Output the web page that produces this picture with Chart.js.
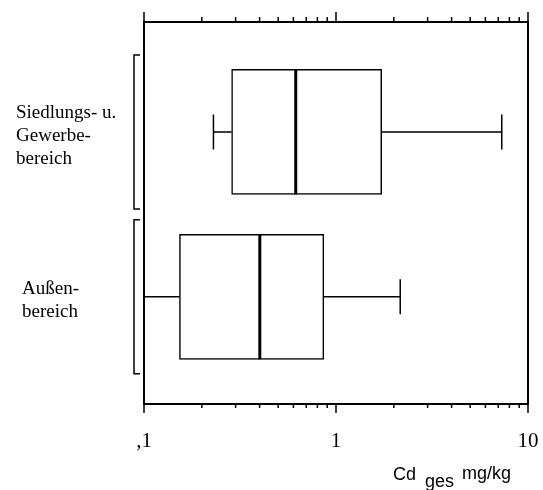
<!DOCTYPE html>
<html>
<head>
<meta charset="utf-8">
<script src="https://cdn.jsdelivr.net/npm/chart.js@4/dist/chart.umd.min.js"></script>
<style>
  html, body { margin: 0; padding: 0; background: #fff; }
  #wrap { width: 543px; height: 490px; }
</style>
</head>
<body>
<div id="wrap"><canvas id="cdChart"></canvas></div>
<script>
// Cd gesamt (mg/kg) nach Nutzung
const groupLines = [['Siedlungs- u.', 'Gewerbe-', 'bereich'], ['Außen-', 'bereich']];
const groupPos = [2, 5];
const whiskerLow = [0.23, 0.1];
const quart1 = [0.286, 0.153];
const medians = [0.617, 0.401];
const quart3 = [1.73, 0.864];
const whiskerHigh = [7.3, 2.16];

const majorTicks = [0.1, 1, 10];
const tickLabels = [',1', '1', '10'];
const minorSteps = [2, 3, 4, 5, 6, 7, 8, 9];

const serif = "'Liberation Serif', 'Times New Roman', serif";
const sans = "'Liberation Sans', Arial, sans-serif";

function line(ctx, x1, y1, x2, y2) {
    ctx.moveTo(x1, y1);
    ctx.lineTo(x2, y2);
}

const boxExtras = {
    id: 'boxExtras',
    afterDatasetsDraw(chart) {
        const ctx = chart.ctx;
        const x = chart.scales.x;
        const meta = chart.getDatasetMeta(0);
        ctx.save();
        ctx.strokeStyle = '#000';
        meta.data.forEach((bar, i) => {
            const { y, height } = bar.getProps(['y', 'height'], true);
            const cap = height * 0.14;
            const lo = x.getPixelForValue(whiskerLow[i]);
            const hi = x.getPixelForValue(whiskerHigh[i]);

            // Whisker und Endstriche
            ctx.lineWidth = 1.5;
            ctx.beginPath();
            line(ctx, lo, y, x.getPixelForValue(quart1[i]), y);
            line(ctx, x.getPixelForValue(quart3[i]), y, hi, y);
            line(ctx, lo, y - cap, lo, y + cap);
            line(ctx, hi, y - cap, hi, y + cap);
            ctx.stroke();

            // Median
            const m = x.getPixelForValue(medians[i]);
            ctx.lineWidth = 3;
            ctx.beginPath();
            line(ctx, m, y - height / 2, m, y + height / 2);
            ctx.stroke();
        });
        ctx.restore();
    },
    afterDraw(chart) {
        const ctx = chart.ctx;
        const area = chart.chartArea;
        const x = chart.scales.x;
        const y = chart.scales.y;
        ctx.save();
        ctx.strokeStyle = '#000';

        // Rahmen
        ctx.lineWidth = 2;
        ctx.strokeRect(area.left, area.top, area.right - area.left, area.bottom - area.top);

        // Teilstriche oben und unten
        const minors = majorTicks.slice(0, -1).flatMap(d => minorSteps.map(s => s * d));
        ctx.lineWidth = 1.5;
        ctx.beginPath();
        majorTicks.forEach(v => {
            const px = x.getPixelForValue(v);
            line(ctx, px, area.top, px, area.top - 10);
            line(ctx, px, area.bottom, px, area.bottom + 9);
        });
        minors.forEach(v => {
            const px = x.getPixelForValue(v);
            line(ctx, px, area.top, px, area.top - 5);
            line(ctx, px, area.bottom, px, area.bottom + 4);
        });
        ctx.stroke();

        // Klammern und Gruppenbeschriftung
        const indent = [0, 6];
        ctx.fillStyle = '#000';
        ctx.font = '19px ' + serif;
        ctx.textAlign = 'left';
        ctx.textBaseline = 'alphabetic';
        groupPos.forEach((pos, i) => {
            const t = y.getPixelForValue(pos - 1.4);
            const b = y.getPixelForValue(pos + 1.4);
            const bx = area.left - 10;
            ctx.lineWidth = 1.5;
            ctx.beginPath();
            ctx.moveTo(bx + 6, t);
            ctx.lineTo(bx, t);
            ctx.lineTo(bx, b);
            ctx.lineTo(bx + 6, b);
            ctx.stroke();

            const yc = y.getPixelForValue(pos);
            const lines = groupLines[i];
            lines.forEach((txt, j) => {
                ctx.fillText(txt, 16 + indent[i], yc + (j - (lines.length - 1) / 2) * 23 + 9);
            });
        });

        // Achsentitel mit tiefgestelltem "ges"
        ctx.font = '18px ' + sans;
        let tx = area.right - 135;
        const base = area.bottom + 76;
        ctx.fillText('Cd', tx, base);
        tx += ctx.measureText('Cd').width + 9;
        ctx.fillText('ges', tx, base + 7);
        tx += ctx.measureText('ges').width + 8;
        ctx.fillText('mg/kg', tx, base - 1);
        ctx.restore();
    }
};

new Chart(document.getElementById('cdChart'), {
    type: 'bar',
    data: {
        datasets: [{
            data: groupPos.map((p, i) => ({ x: [quart1[i], quart3[i]], y: p })),
            backgroundColor: '#fff',
            borderColor: '#000',
            borderWidth: 1.5,
            borderSkipped: false,
            barThickness: 125
        }]
    },
    options: {
        indexAxis: 'y',
        responsive: true,
        maintainAspectRatio: false,
        devicePixelRatio: 1,
        animation: false,
        layout: {
            padding: { left: 144, top: 22, right: 15, bottom: 0 }
        },
        plugins: {
            legend: { display: false },
            tooltip: { enabled: false }
        },
        scales: {
            x: {
                type: 'logarithmic',
                position: 'bottom',
                min: 0.1,
                max: 10,
                grid: { display: false, drawTicks: false },
                border: { display: false },
                afterBuildTicks: s => { s.ticks = majorTicks.map(v => ({ value: v })); },
                afterFit: s => {
                    s.height = 86;
                    s.paddingLeft = 0;
                    s.paddingRight = 0;
                },
                ticks: {
                    autoSkip: false,
                    maxRotation: 0,
                    padding: 25,
                    color: '#000',
                    font: { family: serif, size: 21 },
                    callback: (v, i) => tickLabels[i]
                }
            },
            y: {
                type: 'linear',
                min: 0,
                max: 6.95,
                reverse: true,
                offset: false,
                display: false
            }
        }
    },
    plugins: [boxExtras]
});
</script>
</body>
</html>
